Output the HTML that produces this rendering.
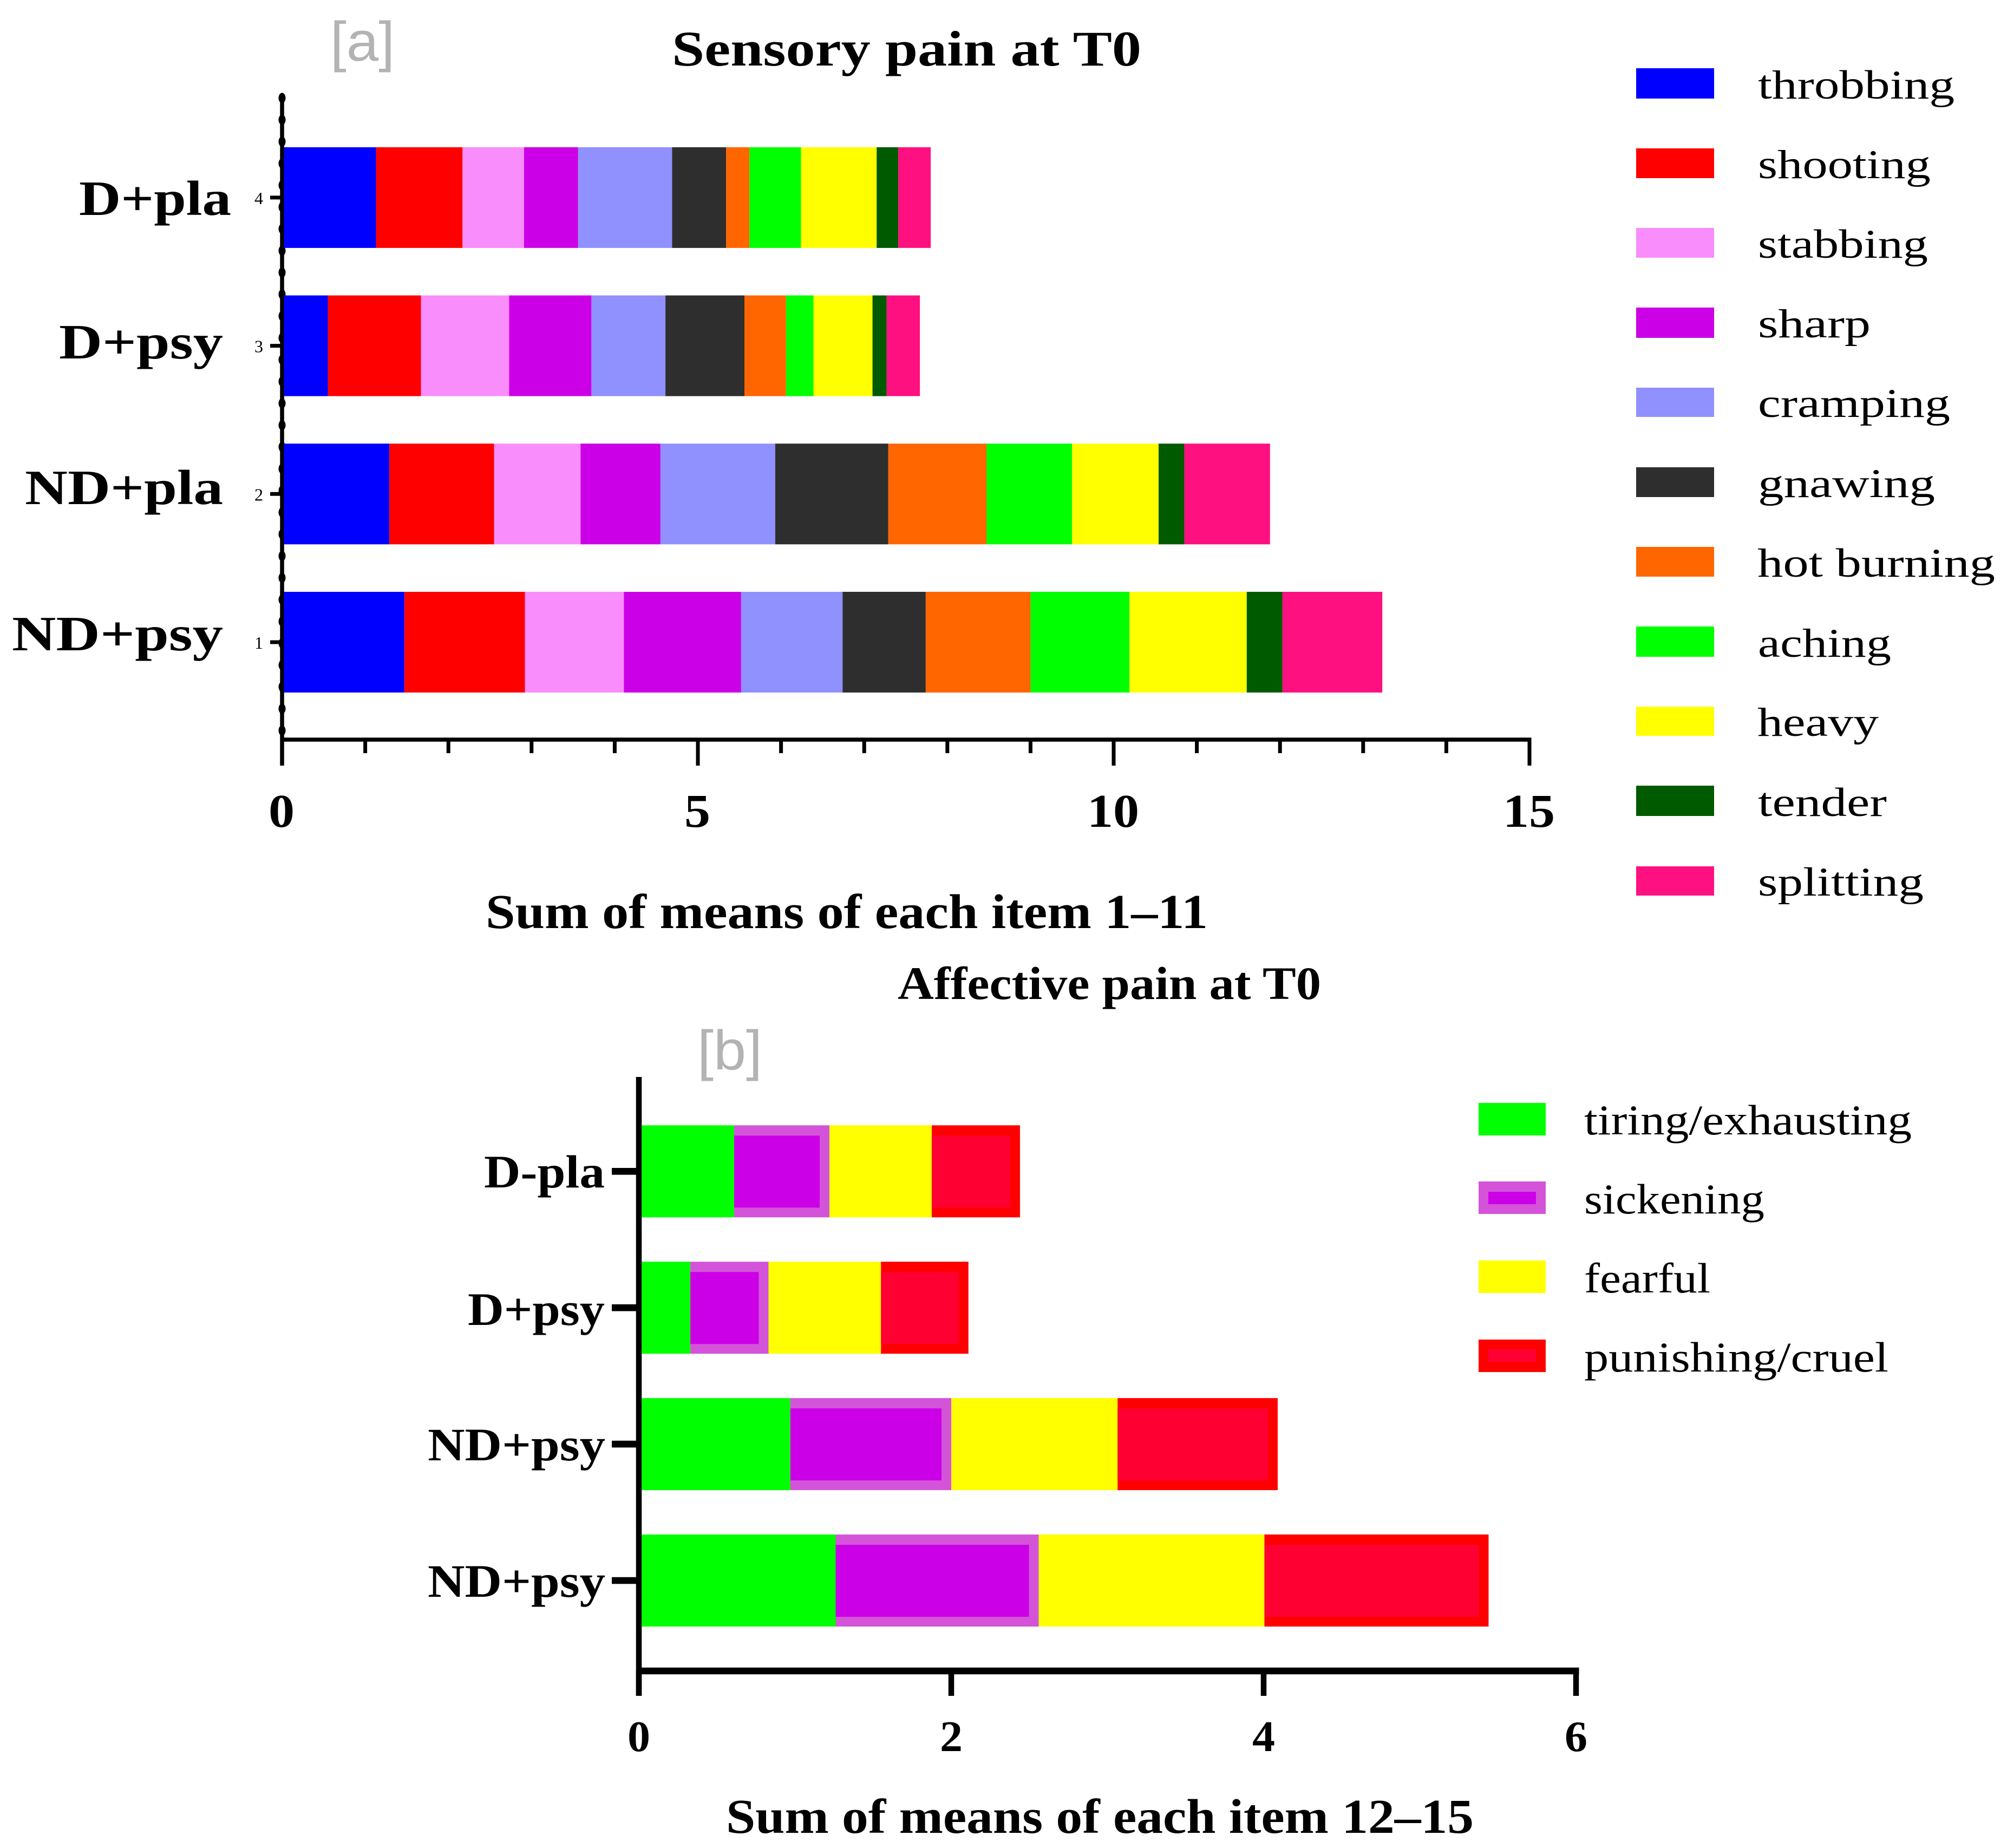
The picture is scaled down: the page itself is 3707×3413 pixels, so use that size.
<!DOCTYPE html>
<html lang="en">
<head>
<meta charset="utf-8">
<title>Sensory and affective pain at T0</title>
<style>
html,body{margin:0;padding:0;background:#fff;}
svg{display:block;}
text{font-family:"Liberation Serif",serif;fill:#000;}
.b{font-weight:bold;}
.tag{font-family:"Liberation Sans",sans-serif;fill:#b3b3b3;font-size:103px;}
.lgA{font-size:75px;}
.lgB{font-size:78px;}
.catA{font-weight:bold;font-size:91px;}
.catB{font-weight:bold;font-size:86px;}
</style>
</head>
<body>
<svg id="figure" xmlns="http://www.w3.org/2000/svg" width="3707" height="3413" viewBox="0 0 3707 3413">
  <rect width="3707" height="3413" fill="#ffffff"/>

  <text class="tag" x="610" y="112" textLength="119" lengthAdjust="spacingAndGlyphs">[a]</text>
  <text class="b" font-size="92" x="1241" y="121" textLength="867" lengthAdjust="spacingAndGlyphs">Sensory pain at T0</text>
  <text class="b" font-size="90" x="897" y="1714" textLength="1334" lengthAdjust="spacingAndGlyphs">Sum of means of each item 1–11</text>

  <text class="catA" x="146" y="397" textLength="281" lengthAdjust="spacingAndGlyphs">D+pla</text>
  <text class="catA" x="109" y="662" textLength="303" lengthAdjust="spacingAndGlyphs">D+psy</text>
  <text class="catA" x="46" y="931" textLength="366" lengthAdjust="spacingAndGlyphs">ND+pla</text>
  <text class="catA" x="22" y="1201" textLength="390" lengthAdjust="spacingAndGlyphs">ND+psy</text>

  <g id="chart-a"></g>

  <g>
    <g><rect x="3022" y="126" width="144" height="56" fill="#0000ff"/><text class="lgA" x="3247" y="182" textLength="363" lengthAdjust="spacingAndGlyphs">throbbing</text></g>
    <g><rect x="3022" y="274" width="144" height="55" fill="#ff0000"/><text class="lgA" x="3247" y="329" textLength="319" lengthAdjust="spacingAndGlyphs">shooting</text></g>
    <g><rect x="3022" y="421" width="144" height="55" fill="#f88dfb"/><text class="lgA" x="3247" y="476" textLength="314" lengthAdjust="spacingAndGlyphs">stabbing</text></g>
    <g><rect x="3022" y="568" width="144" height="56" fill="#cc00e6"/><text class="lgA" x="3247" y="623" textLength="208" lengthAdjust="spacingAndGlyphs">sharp</text></g>
    <g><rect x="3022" y="716" width="144" height="54" fill="#9090ff"/><text class="lgA" x="3247" y="770" textLength="355" lengthAdjust="spacingAndGlyphs">cramping</text></g>
    <g><rect x="3022" y="863" width="144" height="55" fill="#2e2e2e"/><text class="lgA" x="3247" y="918" textLength="327" lengthAdjust="spacingAndGlyphs">gnawing</text></g>
    <g><rect x="3022" y="1010" width="144" height="55" fill="#ff6600"/><text class="lgA" x="3246" y="1065" textLength="439" lengthAdjust="spacingAndGlyphs">hot burning</text></g>
    <g><rect x="3022" y="1157" width="144" height="56" fill="#00ff00"/><text class="lgA" x="3247" y="1213" textLength="246" lengthAdjust="spacingAndGlyphs">aching</text></g>
    <g><rect x="3022" y="1305" width="144" height="54" fill="#ffff00"/><text class="lgA" x="3246" y="1359" textLength="224" lengthAdjust="spacingAndGlyphs">heavy</text></g>
    <g><rect x="3022" y="1451" width="144" height="56" fill="#005a00"/><text class="lgA" x="3247" y="1507" textLength="238" lengthAdjust="spacingAndGlyphs">tender</text></g>
    <g><rect x="3022" y="1600" width="144" height="54" fill="#ff1080"/><text class="lgA" x="3247" y="1654" textLength="306" lengthAdjust="spacingAndGlyphs">splitting</text></g>
  </g>

  <text class="b" font-size="86" x="1658" y="1845" textLength="782" lengthAdjust="spacingAndGlyphs">Affective pain at T0</text>
  <text class="tag" x="1288" y="1975" textLength="120" lengthAdjust="spacingAndGlyphs">[b]</text>
  <text class="b" font-size="90" x="1341" y="3385" textLength="1381" lengthAdjust="spacingAndGlyphs">Sum of means of each item 12–15</text>

  <text class="catB" x="894" y="2193" textLength="223" lengthAdjust="spacingAndGlyphs">D-pla</text>
  <text class="catB" x="864" y="2447" textLength="253" lengthAdjust="spacingAndGlyphs">D+psy</text>
  <text class="catB" x="790" y="2697" textLength="328" lengthAdjust="spacingAndGlyphs">ND+psy</text>
  <text class="catB" x="790" y="2949" textLength="328" lengthAdjust="spacingAndGlyphs">ND+psy</text>

  <g id="chart-b"></g>

  <g>
    <g><rect x="2731" y="2037" width="124" height="60" fill="#00ff00"/><text class="lgB" x="2926" y="2095" textLength="605" lengthAdjust="spacingAndGlyphs">tiring/exhausting</text></g>
    <g><rect x="2731" y="2182" width="124" height="60" fill="#d354d9"/><rect x="2749" y="2201" width="88" height="23" fill="#cc00e6"/><text class="lgB" x="2926" y="2241" textLength="333" lengthAdjust="spacingAndGlyphs">sickening</text></g>
    <g><rect x="2731" y="2328" width="124" height="60" fill="#ffff00"/><text class="lgB" x="2926" y="2387" textLength="233" lengthAdjust="spacingAndGlyphs">fearful</text></g>
    <g><rect x="2731" y="2474" width="124" height="60" fill="#ff0000"/><rect x="2749" y="2492" width="88" height="23" fill="#ff0033"/><text class="lgB" x="2926" y="2533" textLength="562" lengthAdjust="spacingAndGlyphs">punishing/cruel</text></g>
  </g>
</svg>

<script>
// Chart A data: categories bottom to top
const categoriesA = ["ND+psy", "ND+pla", "D+psy", "D+pla"];
const categoryNumbersA = ["1", "2", "3", "4"];
const xTicksA = [0, 5, 10, 15];
const xMinorTicksA = [1, 2, 3, 4, 6, 7, 8, 9, 11, 12, 13, 14];
const seriesNamesA = ["throbbing", "shooting", "stabbing", "sharp", "cramping", "gnawing", "hot-burning", "aching", "heavy", "tender", "splitting"];
const throbbing = [1.47, 1.29, 0.55, 1.13];
const shooting = [1.45, 1.26, 1.12, 1.04];
const stabbing = [1.19, 1.04, 1.06, 0.74];
const sharp = [1.41, 0.96, 0.99, 0.65];
const cramping = [1.22, 1.38, 0.89, 1.13];
const gnawing = [1.00, 1.36, 0.95, 0.65];
const hotBurning = [1.26, 1.18, 0.50, 0.28];
const aching = [1.19, 1.03, 0.33, 0.62];
const heavy = [1.41, 1.04, 0.71, 0.91];
const tender = [0.43, 0.31, 0.17, 0.26];
const splitting = [1.20, 1.03, 0.40, 0.39];
const seriesValuesA = [throbbing, shooting, stabbing, sharp, cramping, gnawing, hotBurning, aching, heavy, tender, splitting];

// Chart B data: categories bottom to top
const categoriesB = ["ND+psy", "ND+psy", "D+psy", "D-pla"];
const xTicksB = [0, 2, 4, 6];
const seriesNamesB = ["tiring", "sickening", "fearful", "punishing"];
const tiring = [1.26, 0.97, 0.33, 0.61];
const sickening = [1.30, 1.03, 0.50, 0.61];
const fearful = [1.445, 1.065, 0.72, 0.655];
const punishing = [1.435, 1.025, 0.56, 0.565];
const seriesValuesB = [tiring, sickening, fearful, punishing];

// Styles, kept apart from the data
const fillsA = ["#0000ff", "#ff0000", "#f88dfb", "#cc00e6", "#9090ff", "#2e2e2e", "#ff6600", "#00ff00", "#ffff00", "#005a00", "#ff1080"];
const fillsB = ["#00ff00", "#d354d9", "#ffff00", "#ff0000"];
const innerFillsB = [null, "#cc00e6", null, "#ff0033"];

const NS = "http://www.w3.org/2000/svg";
const xA = function (v) { return 521 + v * 153.6; };
const yA = function (i) { return 1186 - i * 273.7; };
const xB = function (v) { return 1180 + v * 288.5; };
const yB = function (i) { return 2919 - i * 251.9; };

function make(parent, tag, attrs, text) {
  const el = document.createElementNS(NS, tag);
  for (const k in attrs) { el.setAttribute(k, attrs[k]); }
  if (text !== undefined) { el.textContent = text; }
  parent.appendChild(el);
  return el;
}

const chartA = document.getElementById("chart-a");
const chartB = document.getElementById("chart-b");
let el;

// Chart A: y axis with its row of dots
el = make(chartA, "line", { x1: xA(0), x2: xA(0), y1: 174, y2: 1414, stroke: "#000", "stroke-width": 7.5 });


for (let d = 0; d < 30; d++) {
  el = make(chartA, "ellipse", { cx: xA(0), cy: 181 + d * 40.28, rx: 6.5, ry: 9.5, fill: "#000" });
  
  
}

// Chart A: x axis
el = make(chartA, "line", { x1: xA(0), x2: xA(xTicksA[xTicksA.length - 1]) + 3.5, y1: 1366, y2: 1366, stroke: "#000", "stroke-width": 7.5 });


xMinorTicksA.forEach(function (t) {
  const m = make(chartA, "line", { x1: xA(t), x2: xA(t), y1: 1366, y2: 1391, stroke: "#000", "stroke-width": 7 });
  
  
});
xTicksA.forEach(function (t) {
  const m = make(chartA, "line", { x1: xA(t), x2: xA(t), y1: 1366, y2: 1414, stroke: "#000", "stroke-width": 7 });
  
  
  const s = String(t);
  const lab = make(chartA, "text", { x: xA(t) - 1, y: 1527, "text-anchor": "middle", "font-size": 87, "font-weight": "bold", textLength: 48 * s.length, lengthAdjust: "spacingAndGlyphs" }, s);
  
  
});

// Chart A: category ticks and small numbers
categoriesA.forEach(function (c, i) {
  const m = make(chartA, "line", { x1: 499, x2: xA(0), y1: yA(i), y2: yA(i), stroke: "#000", "stroke-width": 7 });
  
  
  const lab = make(chartA, "text", { x: 478, y: yA(i) + 12, "text-anchor": "middle", "font-size": 32 }, categoryNumbersA[i]);
  
  
});

// Chart A: stacked bars
categoriesA.forEach(function (c, i) {
  let sum = 0;
  seriesValuesA.forEach(function (vals, s) {
    const left = s === 0 ? xA(0) + 3.5 : xA(sum);
    sum += vals[i];
    const r = make(chartA, "rect", { x: left, y: yA(i) - 93, width: xA(sum) - left, height: 186, fill: fillsA[s] });
    
    
    r.setAttribute('data-category', c);
  });
});

// Chart B: axes
el = make(chartB, "line", { x1: xB(0), x2: xB(0), y1: 1989, y2: 3132, stroke: "#000", "stroke-width": 10.5 });


el = make(chartB, "line", { x1: xB(0), x2: xB(xTicksB[xTicksB.length - 1]) + 5.5, y1: 3086, y2: 3086, stroke: "#000", "stroke-width": 12.6 });


xTicksB.forEach(function (t) {
  const m = make(chartB, "line", { x1: xB(t), x2: xB(t), y1: 3086, y2: 3132, stroke: "#000", "stroke-width": 10.5 });
  
  
  const lab = make(chartB, "text", { x: xB(t), y: 3234, "text-anchor": "middle", "font-size": 81, "font-weight": "bold", textLength: 42, lengthAdjust: "spacingAndGlyphs" }, String(t));
  
  
});
categoriesB.forEach(function (c, i) {
  const m = make(chartB, "line", { x1: 1130, x2: xB(0), y1: yB(i), y2: yB(i), stroke: "#000", "stroke-width": 12.6 });
  
  
});

// Chart B: stacked bars, two series carry an inner fill inside a border
categoriesB.forEach(function (c, i) {
  let sum = 0;
  seriesValuesB.forEach(function (vals, s) {
    const left = s === 0 ? xB(0) + 5.25 : xB(sum);
    sum += vals[i];
    const right = xB(sum);
    const top = yB(i) - 85;
    const r = make(chartB, "rect", { x: left, y: top, width: right - left, height: 170, fill: fillsB[s] });
    
    
    r.setAttribute('data-category', c);
    if (innerFillsB[s]) {
      const inner = make(chartB, "rect", { x: left, y: top + 19, width: Math.max(0, right - left - 18), height: 133, fill: innerFillsB[s] });
      
      
    }
  });
});
</script>
</body>
</html>
